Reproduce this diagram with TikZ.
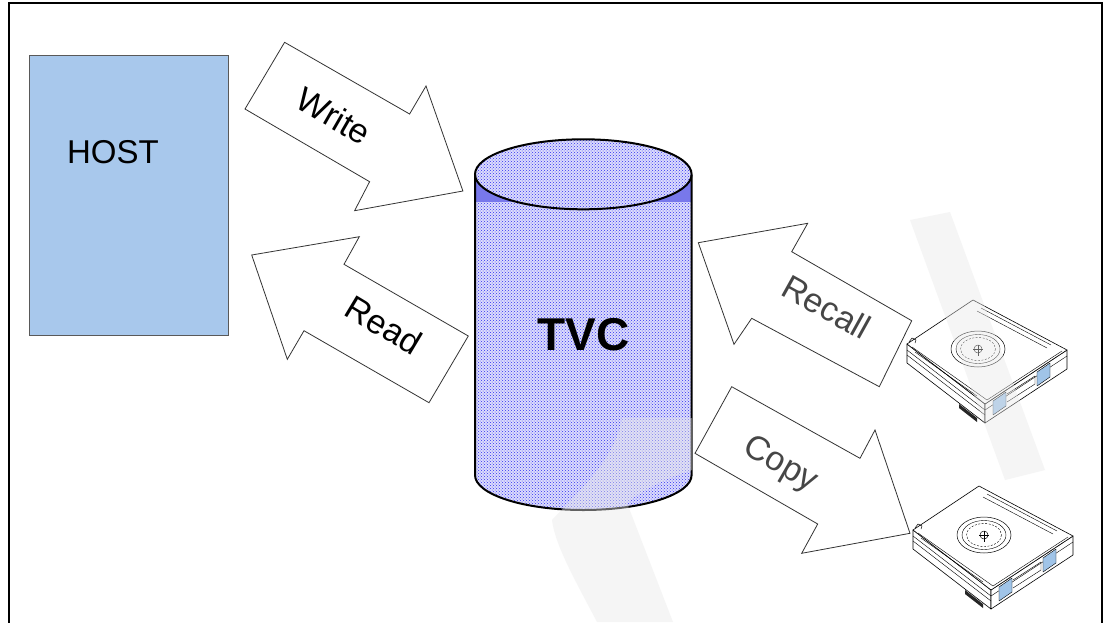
\documentclass[tikz,border=0pt]{standalone}
\usepackage{fontspec}
\setmainfont{Liberation Sans}
\usetikzlibrary{patterns}
\definecolor{hostblue}{RGB}{168,200,236}
\definecolor{tabblue}{RGB}{160,196,232}
\definecolor{cylbase}{RGB}{220,220,252}
\definecolor{cyldots}{RGB}{50,50,240}
\definecolor{shoulder}{RGB}{120,120,235}
\definecolor{fadedtext}{RGB}{70,70,70}
\definecolor{bandgray}{RGB}{232,232,232}
\tikzset{
  bigarrow/.style={draw=black!80, line width=0.8pt, fill=white, line join=miter},
  arrowlabel/.style={font=\fontsize{34}{36}\selectfont, inner sep=0pt},
  cart/.style={draw=black, line width=0.6pt, line join=round},
  shade band/.style={fill=bandgray, fill opacity=0.42, draw=none},
}
% tape cartridge drawn from its left top corner
\newcommand{\cartridge}[2]{%
  \begin{scope}[shift={(#1,#2)}]
    % side faces
    \filldraw[cart, fill=white] (0,0) -- (78,60) -- (78,79) -- (0,19) -- cycle;
    \filldraw[cart, fill=white] (78,60) -- (160,6) -- (160,25) -- (78,79) -- cycle;
    % top face
    \filldraw[cart, fill=white] (0,0) -- (66,-44) -- (160,6) -- (78,60) -- cycle;
    % inner edges of the top face
    \draw[cart, line width=0.4pt] (5,3) -- (80,56) -- (155,7);
    \draw[cart, line width=0.4pt] (8,8) -- (70,52);
    \draw[cart, line width=0.4pt] (70,-33) -- (140,4);
    \draw[cart, line width=0.4pt] (74,-36) -- (144,1);
    \draw[cart, line width=0.4pt] (0,6) -- (78,66) -- (160,12);
    \draw[cart, line width=0.4pt] (0,11) -- (78,71);
    % hub
    \draw[cart, line width=0.5pt] (71,5) ellipse [x radius=27, y radius=18];
    \draw[cart, line width=0.4pt] (71,5) ellipse [x radius=22, y radius=14.5];
    \draw[cart, line width=0.4pt, dash pattern=on 2pt off 1.5pt] (71,5) ellipse [x radius=17.5, y radius=11.5];
    \draw[cart, line width=0.5pt] (71,5) circle [radius=4];
    \draw[cart, line width=0.5pt] (71,1) -- (71,12) (66,5) -- (76,5);
    % notch at the left corner
    \draw[cart, line width=0.5pt] (2,-2) -- (5,-6) -- (9,-4) -- (8,-1);
    % connector grille
    \fill[black!85] (52,60) -- (70,74) -- (70,78) -- (52,64) -- cycle;
    % write-protect tabs
    \filldraw[cart, line width=0.4pt, fill=tabblue] (86,57) -- (99,48) -- (99,62) -- (86,71) -- cycle;
    \filldraw[cart, line width=0.4pt, fill=tabblue] (130,28) -- (143,19) -- (143,33) -- (130,42) -- cycle;
    \draw[cart, line width=0.4pt] (100,50) -- (128,32) -- (128,40) -- (100,58);
  \end{scope}}

\begin{document}
\begin{tikzpicture}[x=1pt, y=-1pt]
  \useasboundingbox (0,0) rectangle (1103,622);
  \fill[white] (0,0) rectangle (1103,622);
  % frame
  \draw[line width=2pt] (8.5,640) -- (8.5,2.5) -- (1101.5,2.5) -- (1101.5,640);

  % host
  \node[draw=black!65, fill=hostblue, line width=0.6pt, minimum width=199pt, minimum height=280pt,
        anchor=north west, inner sep=0pt] (host) at (29,55) {};
  \node[font=\fontsize{33}{36}\selectfont, inner sep=0pt] (hostlabel) at (113,152) {HOST};

  % cache cylinder
  \coordinate (tvc) at (583.3,335);
  \fill[cylbase] (475,175) -- (475,475) arc[start angle=180, end angle=0, x radius=108.3, y radius=35] -- (691.6,175) -- cycle;
  \fill[pattern=crosshatch dots, pattern color=cyldots]
    (475,175) -- (475,475) arc[start angle=180, end angle=0, x radius=108.3, y radius=35] -- (691.6,175) -- cycle;
  \fill[shoulder] (475,175) rectangle (691.6,202);
  \fill[cylbase] (583.3,174.3) ellipse [x radius=108.3, y radius=35];
  \fill[pattern=crosshatch dots, pattern color=cyldots] (583.3,174.3) ellipse [x radius=108.3, y radius=35];
  \draw[line width=2pt] (475,175) -- (475,475) arc[start angle=180, end angle=0, x radius=108.3, y radius=35] -- (691.6,175);
  \draw[line width=2pt] (583.3,174.3) ellipse [x radius=108.3, y radius=35];
  \node[font=\bfseries\fontsize{46}{48}\selectfont, inner sep=0pt] (tvclabel) at (tvc) {TVC};

  % write arrow
  \draw[bigarrow] (284.6,42.3) -- (409.6,114) -- (426,86) -- (462.9,191) -- (354.6,210.7) -- (369.6,181.7) -- (245,109) -- cycle;
  \node[arrowlabel, rotate=-30] (write) at (334,116) {Write};

  % read arrow
  \draw[bigarrow] (251.7,255) -- (359.3,236.7) -- (344,264.3) -- (468.3,336) -- (429,402.7) -- (304,330.7) -- (287.3,359.3) -- cycle;
  \node[arrowlabel, rotate=-31] (read) at (384,325) {Read};

  % recall arrow
  \draw[bigarrow] (698.3,242.7) -- (807.7,223.3) -- (791.7,251.7) -- (911.7,320.7) -- (879.3,386.7) -- (751.7,318.3) -- (734,344.3) -- cycle;
  \node[arrowlabel, rotate=-29, text=fadedtext] (recall) at (826.7,307) {Recall};

  % copy arrow
  \draw[bigarrow] (731.7,386.7) -- (860,458.3) -- (875,430) -- (910,533.3) -- (801.7,553.3) -- (817.7,524) -- (695,453.3) -- cycle;
  \node[arrowlabel, rotate=-30, text=fadedtext] (copy) at (780,465) {Copy};

  % tape cartridges
  \cartridge{907}{344}
  \cartridge{913}{530}

  % faint background bands
  \path[shade band] (910,220) -- (950,212) -- (1045,470) -- (1005,480) -- cycle;
  \path[shade band] (622,418) -- (692,418) -- (692,470)
        .. controls (660,480) and (635,495) .. (627,503)
        -- (673,622) -- (597,622)
        .. controls (575,580) and (555,545) .. (552,520)
        .. controls (580,490) and (615,460) .. cycle;
\end{tikzpicture}
\end{document}
